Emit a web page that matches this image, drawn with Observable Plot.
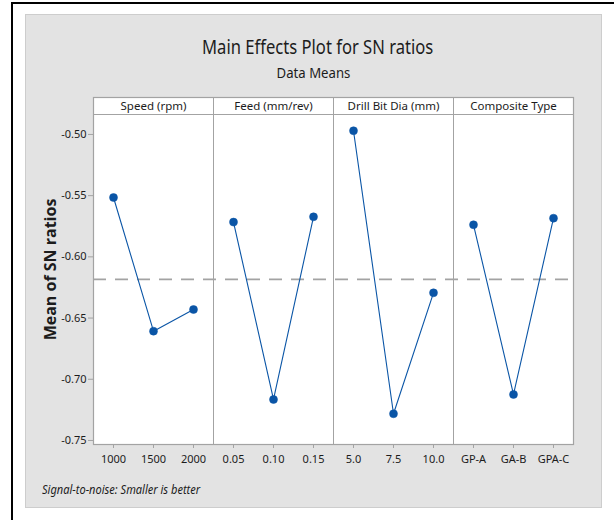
<!DOCTYPE html>
<html>
<head>
<meta charset="utf-8">
<script src="https://cdn.jsdelivr.net/npm/d3@7"></script>
<script src="https://cdn.jsdelivr.net/npm/@observablehq/plot@0.6"></script>
<style>
  html, body { margin: 0; padding: 0; background: #ffffff; }
  #wrap { position: relative; width: 614px; height: 520px; overflow: hidden;
          font-family: "Noto Sans", sans-serif; color: #1c1c1c; }
  #border { position: absolute; left: 11px; top: 2px; width: 620px; height: 540px;
            border-left: 2px solid #000; border-top: 2px solid #000; }
  #panel { position: absolute; left: 25px; top: 14px; width: 575px; height: 492px;
           background: #e3e3e3; border: 1px solid #cdcdcd; }
  #title { position: absolute; left: 25px; width: 577px; top: 35px; text-align: center;
           font-size: 20px; line-height: 24px; transform: scaleX(0.83); transform-origin: 313px 0; }
  #subtitle { position: absolute; left: 25px; width: 577px; top: 64px; text-align: center;
              font-size: 14px; line-height: 18px; transform: scaleX(0.94); transform-origin: 288px 0; }
  #chart { position: absolute; left: 0; top: 92px; }
  #caption { position: absolute; left: 42px; top: 482px; font-style: italic; font-size: 12px; line-height: 15px;
             transform: scaleX(0.92); transform-origin: 0 0; }
</style>
</head>
<body>
<div id="wrap">
  <div id="border"></div>
  <div id="panel"></div>
  <div id="title">Main Effects Plot for SN ratios</div>
  <div id="subtitle">Data Means</div>
  <div id="chart"></div>
  <div id="caption">Signal-to-noise: Smaller is better</div>
</div>
<script>
// ---- data ----
const factors = ["Speed (rpm)", "Feed (mm/rev)", "Drill Bit Dia (mm)", "Composite Type"];
const speedLevels = ["1000", "1500", "2000"];
const feedLevels = ["0.05", "0.10", "0.15"];
const drillLevels = ["5.0", "7.5", "10.0"];
const compositeLevels = ["GP-A", "GA-B", "GPA-C"];
const speedSN = [-0.5515, -0.6607, -0.6430];
const feedSN = [-0.5716, -0.7165, -0.5673];
const drillSN = [-0.4970, -0.7282, -0.6294];
const compositeSN = [-0.5738, -0.7124, -0.5684];
const yTicks = [-0.75, -0.70, -0.65, -0.60, -0.55, -0.50];
const yDomain = [-0.7533, -0.4837];

// ---- build table ----
const levelSets = [speedLevels, feedLevels, drillLevels, compositeLevels];
const valueSets = [speedSN, feedSN, drillSN, compositeSN];
const data = [];
factors.forEach((f, i) => levelSets[i].forEach((lv, j) => data.push({factor: f, level: lv, sn: valueSets[i][j]})));
const xDomain = levelSets.flat();
const grandMean = d3.mean(data, d => d.sn);
const headers = factors.map((f, i) => ({factor: f, level: levelSets[i][1]}));
const dividers = levelSets.slice(0, 3).map(l => l[2]);

const blue = "#0a55a6";
const gridGray = "#a3a3a3";
const font = "'Noto Sans', sans-serif";

const chart = Plot.plot({
  width: 614,
  height: 380,
  marginLeft: 93,
  marginRight: 41,
  marginTop: 22,
  marginBottom: 28,
  style: {background: "transparent", fontFamily: font, fontSize: "11px", color: "#1c1c1c"},
  x: {type: "point", domain: xDomain, padding: 0.5, label: null},
  y: {domain: yDomain, ticks: yTicks, label: null},
  marks: [
    Plot.frame({fill: "white", stroke: "none", insetTop: -17}),
    Plot.ruleY([grandMean], {stroke: gridGray, strokeWidth: 1.8, strokeDasharray: "13,9"}),
    Plot.ruleX(dividers, {dx: 20, stroke: gridGray, strokeWidth: 1, insetTop: -17}),
    Plot.ruleY([yDomain[1]], {stroke: gridGray, strokeWidth: 1}),
    Plot.frame({stroke: gridGray, strokeWidth: 1.2, insetTop: -17}),
    Plot.text(headers, {x: "level", text: "factor", frameAnchor: "top", textAnchor: "middle",
      lineAnchor: "middle", dy: -8.5, fontSize: 11.5, fill: "#1c1c1c"}),
    Plot.axisX({tickSize: 4, tickPadding: 7, stroke: gridGray, fontSize: 11, fill: "#1c1c1c"}),
    Plot.axisY({ticks: yTicks, tickSize: 5, tickPadding: 2, tickFormat: d => d.toFixed(2),
      stroke: gridGray, fontSize: 11, fill: "#1c1c1c"}),
    Plot.text(["Mean of SN ratios"], {frameAnchor: "left", textAnchor: "middle", lineAnchor: "middle",
      dx: -43, dy: -10, rotate: -90,
      fontSize: 16, fontWeight: "bold", fill: "#1c1c1c", fontFamily: "'Open Sans', sans-serif"}),
    Plot.line(data, {x: "level", y: "sn", z: "factor", stroke: blue, strokeWidth: 1.1}),
    Plot.dot(data, {x: "level", y: "sn", r: 4, fill: blue, stroke: blue, strokeWidth: 0.5})
  ]
});
document.getElementById("chart").appendChild(chart);
</script>
</body>
</html>
